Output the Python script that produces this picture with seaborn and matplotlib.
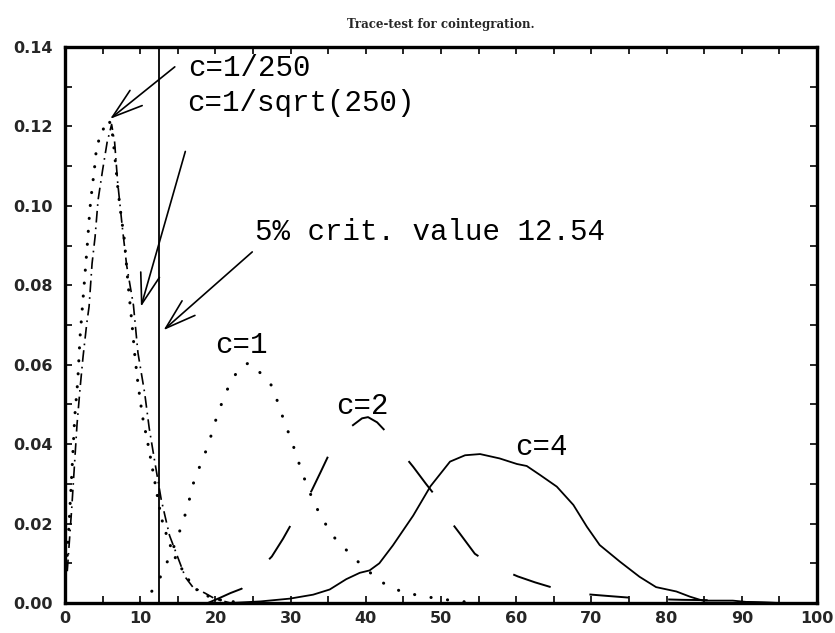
import matplotlib
matplotlib.use("Agg")
import matplotlib.pyplot as plt
import seaborn as sns

# ---------------- data ----------------
x_c250 = [0.3, 0.6, 1.0, 1.3, 1.7, 2.0, 2.5, 3.0, 3.3, 3.6, 3.9, 4.1, 4.5, 5.2, 5.8,
          6.2, 6.6, 7.0, 7.3, 7.9, 8.4, 8.9, 9.3, 9.7, 10.3, 11.1, 11.9, 12.8, 13.7,
          14.8, 16.2, 17.0, 18.2, 19.3, 21.0, 24.0]
y_c250 = [0.012, 0.022, 0.036, 0.047, 0.056, 0.067, 0.079, 0.091, 0.099, 0.1044, 0.109,
          0.113, 0.1166, 0.1198, 0.1216, 0.1200, 0.113, 0.105, 0.0998, 0.0914, 0.080,
          0.0705, 0.062, 0.0553, 0.047, 0.0394, 0.031, 0.0215, 0.0159, 0.0108, 0.0066,
          0.0041, 0.0024, 0.0015, 0.0006, 0.0]

x_csq = [0.3, 0.9, 1.2, 1.6, 2.0, 2.4, 2.9, 3.2, 3.6, 4.0, 4.4, 5.0, 5.6, 6.2, 6.6, 7.0,
         7.6, 8.2, 9.1, 9.7, 10.6, 11.2, 11.9, 12.8, 13.9, 15.1, 16.0, 17.0, 18.6, 20.0, 22.0]
y_csq = [0.008, 0.024, 0.033, 0.045, 0.054, 0.062, 0.0705, 0.0746, 0.0855, 0.0922, 0.1015,
         0.109, 0.116, 0.1205, 0.116, 0.106, 0.095, 0.085, 0.075, 0.063, 0.0528, 0.044,
         0.036, 0.026, 0.017, 0.011, 0.0065, 0.004, 0.0025, 0.001, 0.0]

x_c1 = [10.0, 11.0, 12.3, 13.3, 14.4, 15.2, 16.2, 17.1, 18.0, 19.0, 20.2, 21.1, 22.1,
        23.4, 24.5, 25.6, 27.5, 28.4, 29.1, 29.9, 30.7, 31.4, 32.3, 33.2, 34.4, 35.9,
        38.1, 40.0, 42.5, 44.7, 47.0, 49.3, 52.0, 55.0]
y_c1 = [0.0, 0.0015, 0.005, 0.0091, 0.0138, 0.0178, 0.0235, 0.0303, 0.0348, 0.0395, 0.047,
        0.0516, 0.056, 0.0595, 0.0605, 0.0587, 0.0547, 0.050, 0.046, 0.042, 0.0377, 0.0335,
        0.029, 0.0249, 0.0206, 0.0163, 0.012, 0.0085, 0.0048, 0.0029, 0.0019, 0.0012,
        0.0005, 0.0]

x_c2 = [19.0, 20.6, 22.0, 23.5, 25.0, 26.0, 27.5, 29.0, 30.1, 31.5, 32.8, 34.0, 35.0, 36.5,
        38.1, 39.5, 40.3, 41.5, 42.7, 44.5, 46.3, 48.0, 50.0, 51.5, 52.5, 54.5, 56.0, 58.0,
        60.2, 62.5, 64.6, 67.0, 69.4, 72.0, 74.7, 78.0, 82.0, 86.0, 90.0, 95.0]
y_c2 = [0.0, 0.0013, 0.0025, 0.0036, 0.0065, 0.0088, 0.0117, 0.0162, 0.0199, 0.024, 0.0283,
        0.033, 0.037, 0.041, 0.0445, 0.0465, 0.0468, 0.0455, 0.0431, 0.0385, 0.0343, 0.030,
        0.0252, 0.020, 0.0175, 0.0124, 0.0105, 0.0085, 0.0067, 0.0052, 0.0040, 0.0030,
        0.0022, 0.0018, 0.0014, 0.0010, 0.0008, 0.0007, 0.0003, 0.0]

x_c4 = [22.0, 26.0, 29.9, 33.0, 35.2, 37.4, 39.2, 40.5, 41.8, 43.6, 44.5, 46.3, 48.6, 51.2,
        53.2, 55.2, 57.8, 60.1, 61.4, 63.2, 65.4, 67.6, 69.4, 71.1, 73.8, 76.4, 78.6, 81.3,
        83.1, 84.8, 88.8, 91.0, 95.0]
y_c4 = [0.0, 0.0004, 0.0011, 0.0021, 0.0034, 0.006, 0.0076, 0.0082, 0.010, 0.0145, 0.017,
        0.022, 0.0294, 0.0356, 0.0372, 0.0375, 0.0364, 0.035, 0.0345, 0.0322, 0.0293,
        0.0247, 0.0192, 0.0146, 0.0104, 0.0066, 0.0040, 0.0029, 0.0016, 0.0006, 0.0006,
        0.0002, 0.0]

crit_value = 12.54
title_text = "Trace-test for cointegration."
label_c250 = "c=1/250"
label_csq = "c=1/sqrt(250)"
label_crit = "5% crit. value 12.54"
label_c1 = "c=1"
label_c2 = "c=2"
label_c4 = "c=4"
x_ticks = [0, 10, 20, 30, 40, 50, 60, 70, 80, 90, 100]
y_ticks = [0.00, 0.02, 0.04, 0.06, 0.08, 0.10, 0.12, 0.14]

# ---------------- style ----------------
sns.set_style("ticks")
plt.rcParams["font.family"] = ["DejaVu Sans"]

W, H = 835, 633
fig = plt.figure(figsize=(W / 100, H / 100), dpi=100)
ax = fig.add_axes([65 / W, (H - 603) / H, (817 - 65) / W, (603 - 47) / H])

# curves
sns.lineplot(x=x_c250, y=y_c250, ax=ax, color="black", lw=2.2, sort=False,
             estimator=None, linestyle=(0, (0.05, 4.2)), dash_capstyle="round")
sns.lineplot(x=x_csq, y=y_csq, ax=ax, color="black", lw=1.2, sort=False,
             estimator=None, linestyle=(0, (7, 3, 1, 3)))
sns.lineplot(x=x_c1, y=y_c1, ax=ax, color="black", lw=2.2, sort=False,
             estimator=None, linestyle=(0, (0.05, 5.4)), dash_capstyle="round")
sns.lineplot(x=x_c2, y=y_c2, ax=ax, color="black", lw=1.4, sort=False,
             estimator=None, linestyle=(1, (20.3, 20.3)))
sns.lineplot(x=x_c4, y=y_c4, ax=ax, color="black", lw=1.3, sort=False,
             estimator=None)
ax.axvline(crit_value, color="black", lw=1.3)

# axes
ax.set_xlim(0, 100)
ax.set_ylim(0, 0.14)
ax.set_xticks(x_ticks)
ax.set_yticks(y_ticks)
ax.set_xticks([v + 5 for v in x_ticks[:-1]], minor=True)
ax.set_yticks([v + 0.01 for v in y_ticks[:-1]], minor=True)
ax.set_xticklabels([str(v) for v in x_ticks])
ax.set_yticklabels([f"{v:.2f}" for v in y_ticks])
ax.tick_params(which="both", direction="in", top=True, right=True,
               length=5, width=1.2, color="black")
ax.tick_params(axis="x", which="major", pad=6)
ax.tick_params(axis="y", which="major", pad=9)
for lab in ax.get_xticklabels() + ax.get_yticklabels():
    lab.set_fontweight("bold")
    lab.set_fontsize(11.5)
for sp in ax.spines.values():
    sp.set_linewidth(2.4)
    sp.set_color("black")
ax.set_xlabel("")
ax.set_ylabel("")

ax.set_title(title_text, fontsize=8.5, fontweight="bold",
             family=["DejaVu Serif"], pad=14)

# annotations
tfont = dict(family=["Liberation Mono", "DejaVu Sans Mono"], fontsize=21, color="black")
arrow = dict(arrowstyle="->,head_length=1.1,head_width=0.35", color="black", lw=1.2,
             mutation_scale=20, shrinkA=0, shrinkB=0)

ax.text(16.4, 0.1347, label_c250, ha="left", va="center", **tfont)
ax.annotate("", xy=(6.0, 0.1219), xytext=(14.6, 0.1350), arrowprops=arrow)

ax.text(16.2, 0.1259, label_csq, ha="left", va="center", **tfont)
ax.annotate("", xy=(10.1, 0.0746), xytext=(16.0, 0.1137), arrowprops=arrow)

ax.text(25.3, 0.0934, label_crit, ha="left", va="center", **tfont)
ax.annotate("", xy=(13.1, 0.0687), xytext=(24.9, 0.0884), arrowprops=arrow)

ax.text(23.5, 0.0650, label_c1, ha="center", va="center", **tfont)
ax.text(39.6, 0.0496, label_c2, ha="center", va="center", **tfont)
ax.text(63.4, 0.0394, label_c4, ha="center", va="center", **tfont)

fig.savefig("out.png", dpi=100)
